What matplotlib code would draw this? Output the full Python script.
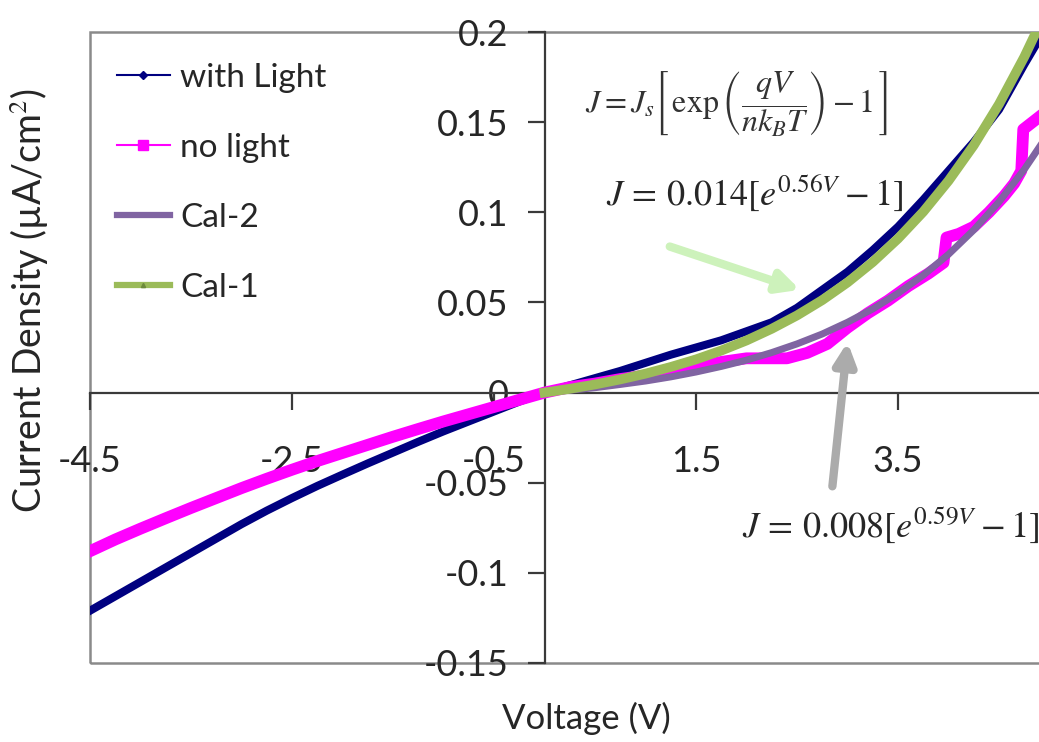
import matplotlib
matplotlib.use("Agg")
import matplotlib.pyplot as plt
from matplotlib.lines import Line2D
from matplotlib.patches import Rectangle

plt.rcParams['font.family'] = ['Lato', 'DejaVu Sans']
plt.rcParams['mathtext.fontset'] = 'stix'

# ---- measured I-V data -------------------------------------------------
# with light (reverse and forward bias)
light_v = [-4.5, -4.25, -4.0, -3.75, -3.5, -3.25, -3.0, -2.75, -2.5, -2.25,
           -2.0, -1.75, -1.5, -1.25, -1.0, -0.75, -0.5, -0.25, 0.0,
           0.25, 0.5, 0.75, 1.0, 1.25, 1.5, 1.75, 2.0, 2.25, 2.5, 2.75,
           3.0, 3.25, 3.5, 3.75, 4.0, 4.25, 4.5, 4.75, 4.95]
light_j = [-0.121, -0.113, -0.105, -0.097, -0.089, -0.081, -0.073, -0.0655, -0.0585, -0.0518,
           -0.0455, -0.0393, -0.0333, -0.0273, -0.0215, -0.016, -0.0105, -0.005, 0.0,
           0.004, 0.008, 0.012, 0.0165, 0.021, 0.025, 0.029, 0.034, 0.039, 0.047, 0.057,
           0.067, 0.079, 0.092, 0.107, 0.123, 0.139, 0.157, 0.182, 0.201]

# dark measurement
dark_v = [-4.5, -4.25, -4.0, -3.75, -3.5, -3.25, -3.0, -2.75, -2.5, -2.25,
          -2.0, -1.75, -1.5, -1.25, -1.0, -0.75, -0.5, -0.25, 0.0,
          0.25, 0.5, 0.75, 1.0, 1.25, 1.5, 1.75, 2.0, 2.2, 2.4, 2.6, 2.8,
          3.0, 3.2, 3.4, 3.6, 3.8, 3.95, 3.98, 4.1, 4.25, 4.4, 4.55, 4.65,
          4.72, 4.74, 4.9]
dark_j = [-0.088, -0.0815, -0.0755, -0.0697, -0.064, -0.0585, -0.053, -0.0478, -0.0428, -0.038,
          -0.0335, -0.029, -0.0245, -0.0202, -0.016, -0.012, -0.008, -0.004, 0.0,
          0.003, 0.005, 0.0075, 0.0095, 0.0115, 0.014, 0.017, 0.019, 0.019, 0.019, 0.022, 0.027,
          0.036, 0.044, 0.051, 0.059, 0.066, 0.072, 0.086, 0.088, 0.092, 0.100, 0.109, 0.116,
          0.123, 0.146, 0.153]

# diode-equation fits
fit_v = [0.0, 0.25, 0.5, 0.75, 1.0, 1.25, 1.5, 1.75, 2.0, 2.25, 2.5, 2.75,
         3.0, 3.25, 3.5, 3.75, 4.0, 4.25, 4.5, 4.75, 4.95]
cal1_j = [0.0, 0.0021, 0.0045, 0.0073, 0.0105, 0.0142, 0.0184, 0.0233, 0.0289, 0.0354,
          0.0428, 0.0513, 0.0611, 0.0724, 0.0854, 0.1003, 0.1175, 0.1372, 0.1600, 0.1862, 0.2097]
cal2_j = [0.0, 0.0013, 0.0027, 0.0045, 0.0064, 0.0087, 0.0114, 0.0145, 0.0180, 0.0222,
          0.0270, 0.0325, 0.0390, 0.0464, 0.0551, 0.0651, 0.0767, 0.0902, 0.1058, 0.1238, 0.1404]

x_ticks = [-4.5, -2.5, -0.5, 1.5, 3.5]
x_tick_labels = ['-4.5', '-2.5', '-0.5', '1.5', '3.5']
y_ticks = [-0.15, -0.1, -0.05, 0.0, 0.05, 0.1, 0.15, 0.2]
y_tick_labels = ['-0.15', '-0.1', '-0.05', '0', '0.05', '0.1', '0.15', '0.2']

C_LIGHT = '#000080'
C_DARK = '#ff00ff'
C_CAL2 = '#8064a2'
C_CAL1 = '#9bbb59'

W, H = 1039, 742
fig = plt.figure(figsize=(W / 100, H / 100), dpi=100)
ax = fig.add_axes([90 / W, 79 / H, 954.5 / W, 631 / H])
ax.set_xlim(-4.5, 4.95)
ax.set_ylim(-0.15, 0.2)

ax.plot(light_v, light_j, color=C_LIGHT, lw=5.8, solid_joinstyle='round', zorder=3)
ax.plot(dark_v, dark_j, color=C_DARK, lw=8.5, solid_joinstyle='round', zorder=4)
ax.plot(fit_v, cal2_j, color=C_CAL2, lw=5.0, zorder=5)
ax.plot(fit_v, cal1_j, color=C_CAL1, lw=7.0, zorder=6)

# axes crossing at the origin, plot-area frame in grey
for s in ('top', 'right'):
    ax.spines[s].set_visible(False)
ax.spines['left'].set_position(('data', 0))
ax.spines['bottom'].set_position(('data', 0))
for s in ('left', 'bottom'):
    ax.spines[s].set_color('#3a3a3a')
    ax.spines[s].set_linewidth(1.6)
    ax.spines[s].set_zorder(2)
ax.add_patch(Rectangle((0, 0), 1, 1, transform=ax.transAxes, fill=False,
                       edgecolor='#8a8a8a', lw=1.8, clip_on=False, zorder=1))

ax.set_xticks(x_ticks)
ax.set_xticklabels(x_tick_labels)
ax.set_yticks(y_ticks)
ax.set_yticklabels(y_tick_labels)
ax.tick_params(axis='x', direction='out', length=12, width=1.6, color='#3a3a3a',
               pad=26, labelsize=26, labelcolor='#262626')
ax.tick_params(axis='y', direction='out', length=12, width=1.6, color='#3a3a3a',
               pad=14, labelsize=26, labelcolor='#262626')

fig.text(586 / W, 1 - 718 / H, 'Voltage (V)', fontsize=25, color='#262626',
         ha='center', va='center')
fig.text(29 / W, 1 - 300 / H, 'Current Density (\u00b5A/cm$^2$)', fontsize=27,
         color='#262626', rotation=90, ha='center', va='center')

handles = [
    Line2D([], [], color=C_LIGHT, lw=1.5, marker='D', markersize=4),
    Line2D([], [], color=C_DARK, lw=1.5, marker='s', markersize=7),
    Line2D([], [], color=C_CAL2, lw=4.5),
    Line2D([], [], color=C_CAL1, lw=4.5, marker='^', markersize=3,
           markerfacecolor='#6d8a3a', markeredgecolor='#6d8a3a'),
]
fig.legend(handles, ['with Light', 'no light', 'Cal-2', 'Cal-1'],
           loc='upper left', bbox_to_anchor=(100 / W, 1 - 46 / H), frameon=False,
           fontsize=24, handlelength=1.6, handletextpad=0.3, labelspacing=1.2,
           borderpad=0, labelcolor='#262626')

# fit equations
fig.text(736 / W, 1 - 103 / H,
         r'$J = J_s\left[\,\exp\left(\dfrac{qV}{nk_BT}\right) - 1\,\right]$',
         fontsize=23, color='#333333', ha='center', va='center')
fig.text(755 / W, 1 - 193 / H, r'$J\,=\,\mathrm{0.014}[e^{\mathrm{0.56}V} - 1]$',
         fontsize=26, color='#262626', ha='center', va='center')
fig.text(742 / W, 1 - 525 / H, r'$J\,=\,\mathrm{0.008}[e^{\mathrm{0.59}V} - 1]$',
         fontsize=26, color='#262626', ha='left', va='center')

ax.annotate('', xy=(2.53, 0.057), xytext=(1.24, 0.081),
            arrowprops=dict(arrowstyle='-|>', color='#cdf2bb', lw=6,
                            mutation_scale=32, shrinkA=0, shrinkB=0), zorder=7)
ax.annotate('', xy=(3.0, 0.028), xytext=(2.85, -0.052),
            arrowprops=dict(arrowstyle='-|>', color='#ababab', lw=6,
                            mutation_scale=32, shrinkA=0, shrinkB=0), zorder=7)

fig.savefig('out.png', dpi=100, facecolor='white')
